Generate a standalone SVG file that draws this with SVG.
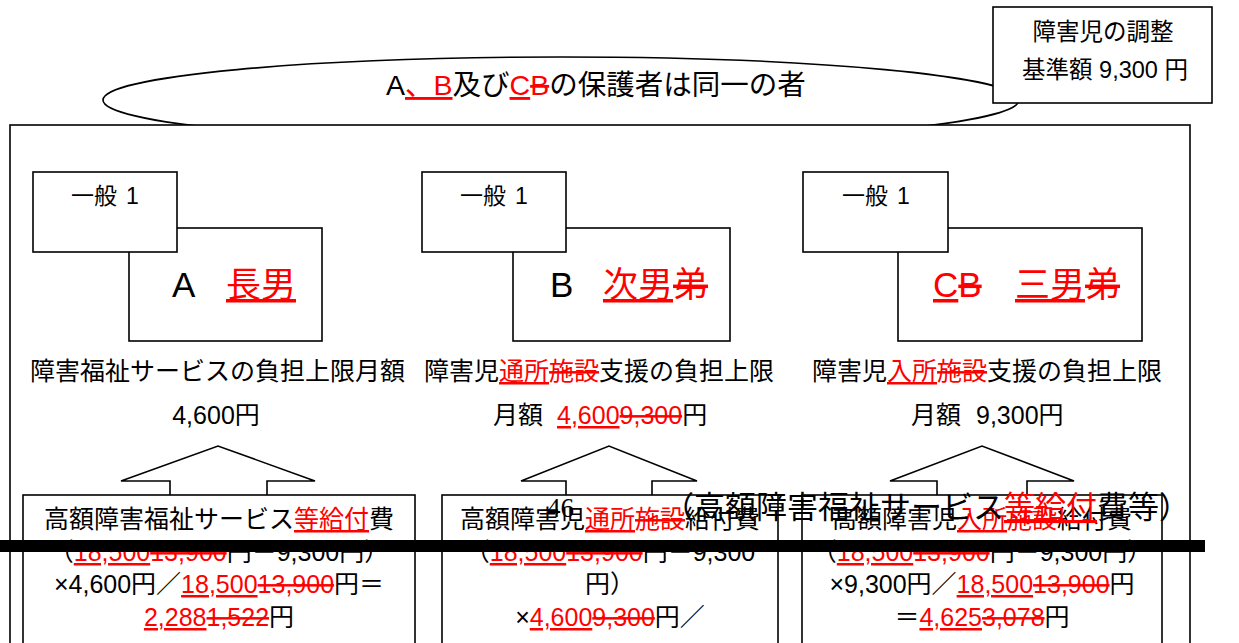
<svg xmlns="http://www.w3.org/2000/svg" width="1239" height="643" viewBox="0 0 1239 643">
<style>
text{font-family:"Liberation Sans","Noto Sans CJK JP",sans-serif;fill:#000}
.box{fill:#fff;stroke:#000;stroke-width:1.6}
.r{fill:#f00}
.u{fill:#f00;text-decoration:underline}
.s{fill:#f00;text-decoration:line-through}
.t25{font-size:25px}
.t21{font-size:23px}
.big{font-size:35px}
.mid{text-anchor:middle}
</style>
<rect x="0" y="0" width="1239" height="643" fill="#fff"/>
<g id="ellipse-note">
<ellipse cx="561" cy="100" rx="458" ry="43" fill="#fff" stroke="#000" stroke-width="1.6"/>
<text x="386" y="95" style="font-size:28.5px">A<tspan class="u">、B</tspan>及び<tspan class="u">C</tspan><tspan class="s">B</tspan>の保護者は同一の者</text>
</g>
<g id="outer-frame">
<rect class="box" x="10" y="125" width="1180" height="540"/>
</g>
<g id="adjust-box">
<rect class="box" x="993" y="7" width="219" height="96"/>
<text class="mid" x="1103" y="40" style="font-size:23.5px">障害児の調整</text>
<text class="mid" x="1105" y="78" style="font-size:23.5px">基準額 9,300 円</text>
</g>
<g id="nodeA">
<rect class="box" x="129" y="228" width="193" height="113"/>
<rect class="box" x="33" y="172" width="144" height="80"/>
<text class="t21" x="71" y="204">一般<tspan x="126">1</tspan></text>
<text class="big" x="172" y="297">A</text>
<text class="big" x="226" y="297"><tspan class="u">長男</tspan></text>
<text class="t25" x="30" y="380">障害福祉サービスの負担上限月額</text>
<text class="t25 mid" x="216" y="424">4,600円</text>
</g>
<g id="nodeB">
<rect class="box" x="513" y="228" width="217" height="113"/>
<rect class="box" x="422" y="172" width="144" height="80"/>
<text class="t21" x="460" y="204">一般<tspan x="515">1</tspan></text>
<text class="big" x="550" y="297">B</text>
<text class="big" x="603" y="297"><tspan class="u">次男</tspan><tspan class="s">弟</tspan></text>
<text class="t25" x="424" y="380">障害児<tspan class="u">通所</tspan><tspan class="s">施設</tspan>支援の負担上限</text>
<text class="t25" x="493" y="424">月額<tspan x="557" class="u">4,600</tspan><tspan class="s">9,300</tspan>円</text>
</g>
<g id="nodeC">
<rect class="box" x="898" y="228" width="244" height="113"/>
<rect class="box" x="803" y="172" width="145" height="80"/>
<text class="t21" x="842" y="204">一般<tspan x="897">1</tspan></text>
<text class="big" x="933" y="297"><tspan class="u">C</tspan><tspan class="s">B</tspan></text>
<text class="big" x="1015" y="297"><tspan class="u">三男</tspan><tspan class="s">弟</tspan></text>
<text class="t25" x="812" y="380">障害児<tspan class="u">入所</tspan><tspan class="s">施設</tspan>支援の負担上限</text>
<text class="t25" x="911" y="424">月額<tspan x="976">9,300円</tspan></text>
</g>
<g id="connectors" fill="#fff" stroke="#000" stroke-width="1.6" stroke-linejoin="miter">
<polyline points="170,495 170,481 121,481 218,446 315,481 267,481 267,495"/>
<polyline points="566,495 566,481 521,481 609,446 697,481 652,481 652,495"/>
<polyline points="937,495 937,481 890,481 982,446 1074,481 1027,481 1027,495"/>
</g>
<g id="boxA">
<rect class="box" x="23" y="495" width="392" height="160"/>
<text class="t25 mid" x="219" y="528">高額障害福祉サービス<tspan class="u">等給付</tspan>費</text>
<text class="t25 mid" x="219" y="561">（<tspan class="u">18,500</tspan><tspan class="s">13,900</tspan>円－9,300円）</text>
<text class="t25 mid" x="219" y="593">×4,600円／<tspan class="u">18,500</tspan><tspan class="s">13,900</tspan>円＝</text>
<text class="t25 mid" x="219" y="626"><tspan class="u">2,288</tspan><tspan class="s">1,522</tspan>円</text>
</g>
<g id="boxB">
<rect class="box" x="442" y="495" width="336" height="160"/>
<text class="t25 mid" x="610" y="528">高額障害児<tspan class="u">通所</tspan><tspan class="s">施設</tspan>給付費</text>
<text class="t25 mid" x="610" y="561">（<tspan class="u">18,500</tspan><tspan class="s">13,900</tspan>円－9,300</text>
<text class="t25 mid" x="610" y="593">円）</text>
<text class="t25 mid" x="610" y="626">×<tspan class="u">4,600</tspan><tspan class="s">9,300</tspan>円／</text>
</g>
<g id="boxC">
<rect class="box" x="802" y="495" width="360" height="160"/>
<text class="t25 mid" x="982" y="528">高額障害児<tspan class="u">入所</tspan><tspan class="s">施設</tspan>給付費</text>
<text class="t25 mid" x="982" y="561">（<tspan class="u">18,500</tspan><tspan class="s">13,900</tspan>円－9,300円）</text>
<text class="t25 mid" x="982" y="593">×9,300円／<tspan class="u">18,500</tspan><tspan class="s">13,900</tspan>円</text>
<text class="t25 mid" x="982" y="626">＝<tspan class="u">4,625</tspan><tspan class="s">3,078</tspan>円</text>
</g>
<g id="page-header">
<text x="547" y="517" style="font-family:'Liberation Serif',serif;font-size:27px">46</text>
<text x="663" y="518" style="font-size:31px">（高額障害福祉サービス<tspan class="u">等給付</tspan>費等）</text>
<rect x="0" y="540" width="1205" height="12" fill="#000"/>
</g>
</svg>
